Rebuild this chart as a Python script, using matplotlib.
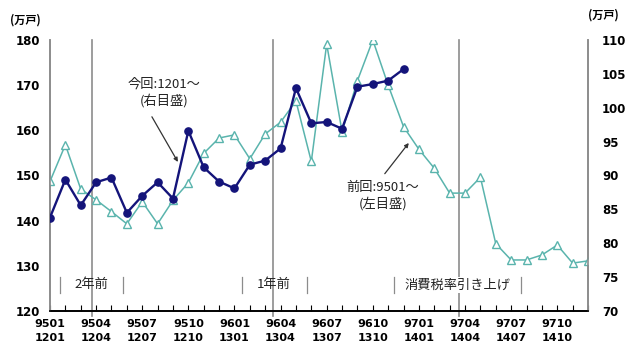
import numpy as np
import matplotlib.pyplot as plt

plt.rcParams['font.family'] = ['Noto Sans CJK JP', 'DejaVu Sans']

# 前回 (9501~, left axis) monthly values
prev_vals = [148.7, 156.8, 147.0, 144.6, 142.0, 139.3, 144.2, 139.3, 144.5, 148.4,
             154.9, 158.3, 159.0, 153.7, 159.2, 161.8, 166.5, 153.1, 179.1, 159.7,
             171.0, 180.0, 170.0, 160.8, 155.8, 151.6, 146.1, 146.1, 149.6, 134.9,
             131.3, 131.3, 132.4, 134.6, 130.6, 131.1]
# 今回 (1201~, right axis) monthly values
curr_vals = [83.8, 89.4, 85.6, 89.0, 89.7, 84.5, 87.0, 89.0, 86.6, 96.6,
             91.2, 89.1, 88.1, 91.6, 92.2, 94.0, 102.9, 97.7, 97.9, 96.9,
             103.1, 103.5, 104.0, 105.7]

top_labels = ['9501', '9504', '9507', '9510', '9601', '9604',
              '9607', '9610', '9701', '9704', '9707', '9710']
bottom_labels = ['1201', '1204', '1207', '1210', '1301', '1304',
                 '1307', '1310', '1401', '1404', '1407', '1410']

# period brackets along the bottom: (left, right, label)
periods = [(0.65, 4.75, '2年前'), (12.46, 16.69, '1年前'), (22.37, 30.67, '消費税率引き上げ')]
marker_lines = [2.73, 14.48, 26.59]

teal = '#5ab4ad'
navy = '#14147a'
gray = '#8c8c8c'
txt = '#222222'

fig = plt.figure(figsize=(6.42, 3.51), dpi=100)
ax = fig.add_axes([50 / 642, 1 - 311 / 351, 538 / 642, 271 / 351])
ax2 = ax.twinx()

x_prev = np.arange(len(prev_vals))
x_curr = np.arange(len(curr_vals))

ax.plot(x_prev, prev_vals, color=teal, lw=1.1, marker='^', ms=5.5,
        mfc='white', mec=teal, mew=1.0, zorder=3)
ax2.plot(x_curr, curr_vals, color=navy, lw=1.7, marker='o', ms=5.2,
         mfc=navy, mec=navy, zorder=4)

ax.set_xlim(0, 35)
ax.set_ylim(120, 180)
ax2.set_ylim(70, 110)
ax.set_yticks(np.arange(120, 181, 10))
ax2.set_yticks(np.arange(70, 111, 5))

ax.set_xticks(np.arange(0, 36, 3))
ax.set_xticks(np.arange(0, 36, 1), minor=True)
ax.set_xticklabels([f'{a}\n{b}' for a, b in zip(top_labels, bottom_labels)],
                   fontsize=8, fontweight='bold', family='DejaVu Sans',
                   linespacing=1.5)
ax.tick_params(axis='x', which='both', direction='in', length=4, width=0.8, pad=6)
ax.tick_params(axis='y', length=0, pad=7)
ax2.tick_params(axis='y', length=0, pad=10)
for lab in ax.get_yticklabels() + ax2.get_yticklabels():
    lab.set_fontweight('bold')
    lab.set_fontsize(8.5)
    lab.set_family('DejaVu Sans')

for a in (ax, ax2):
    a.spines['top'].set_visible(False)
    a.spines['left'].set_color(gray)
    a.spines['right'].set_color(gray)
    a.spines['left'].set_linewidth(1.2)
    a.spines['right'].set_linewidth(1.2)
    a.spines['bottom'].set_linewidth(1.2)

# vertical reference lines
for xv in marker_lines:
    ax.plot([xv, xv], [118.8, 180], color=gray, lw=1.2, zorder=1, clip_on=False)

# period brackets
for i, (x0, x1, label) in enumerate(periods):
    ax.plot([x0, x0], [124.0, 127.6], color=gray, lw=0.9, zorder=1)
    ax.plot([x1, x1], [124.0, 127.6], color=gray, lw=0.9, zorder=1)
    kw = {}
    if i == 2:
        kw['bbox'] = dict(facecolor='white', edgecolor='none', pad=1)
    ax.text((x0 + x1) / 2, 125.8, label, ha='center', va='center',
            fontsize=9.5, color=txt, zorder=2, **kw)

# series labels with pointer arrows
arrow_kw = dict(arrowstyle='-|>', color='#333333', lw=0.9,
                shrinkA=0, shrinkB=0, mutation_scale=6)
ax.text(7.41, 168.3, '今回:1201～\n(右目盛)', ha='center', va='center',
        fontsize=9.5, color=txt, linespacing=1.25)
ax.annotate('', xy=(8.32, 153.0), xytext=(6.63, 163.0), arrowprops=arrow_kw)
ax.text(21.65, 145.5, '前回:9501～\n(左目盛)', ha='center', va='center',
        fontsize=9.5, color=txt, linespacing=1.25)
ax.annotate('', xy=(23.34, 157.2), xytext=(21.78, 150.4), arrowprops=arrow_kw)

fig.text(10 / 642, 1 - 20 / 351, '(万戸)', fontsize=8, fontweight='bold',
         ha='left', va='center')
fig.text(588 / 642, 1 - 15 / 351, '(万戸)', fontsize=8, fontweight='bold',
         ha='left', va='center')

fig.savefig('out.png', dpi=100)
